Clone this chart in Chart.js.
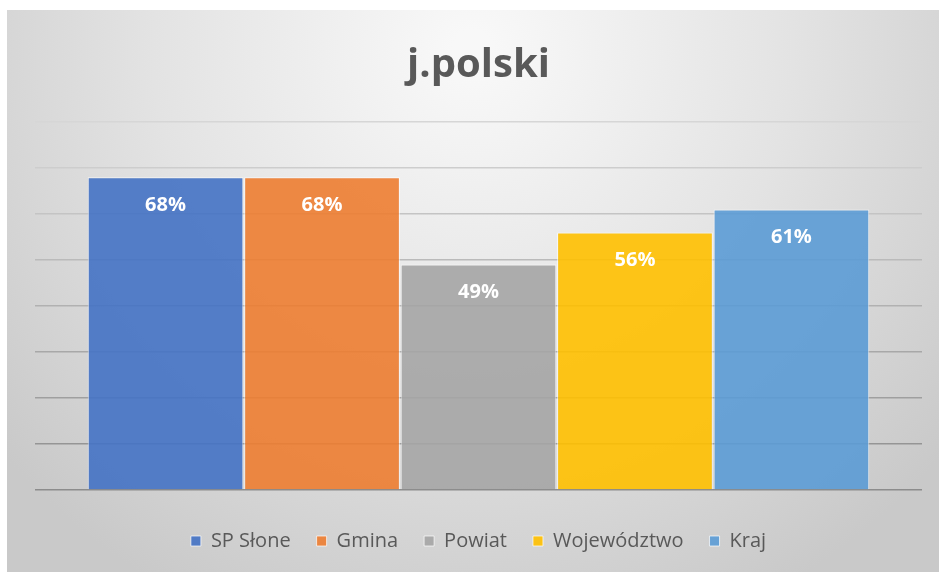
<!DOCTYPE html>
<html>
<head>
<meta charset="utf-8">
<script src="https://cdn.jsdelivr.net/npm/chart.js@4.4.1/dist/chart.umd.min.js"></script>
<style>
    body { margin: 0; background: #fff; }
    #wrap { position: absolute; left: 7px; top: 10px; width: 932px; height: 562px; }
</style>
</head>
<body>
<div id="wrap"><canvas id="chart"></canvas></div>
<script>
const categories = [''];
const seriesNames = ['SP Słone', 'Gmina', 'Powiat', 'Województwo', 'Kraj'];
const seriesValues = [68, 68, 49, 56, 61];
const seriesColors = ['rgba(68,114,196,0.9)', 'rgba(237,125,49,0.9)', 'rgba(165,165,165,0.9)', 'rgba(255,192,0,0.9)', 'rgba(91,155,213,0.9)'];
const yTicks = [0, 10, 20, 30, 40, 50, 60, 70, 80];

// gray radial background like the Excel chart style
const backgroundPlugin = {
    id: 'bg',
    beforeDraw(chart) {
        const { ctx, width, height } = chart;
        const g = ctx.createRadialGradient(width / 2, 40, 20, width / 2, 40, 620);
        g.addColorStop(0, '#f8f8f8');
        g.addColorStop(0.5, '#e3e3e3');
        g.addColorStop(1, '#c9c9c9');
        ctx.save();
        ctx.fillStyle = g;
        ctx.fillRect(0, 0, width, height);
        ctx.restore();
    }
};

// white value labels inside the top of each bar
const valueLabels = {
    id: 'valueLabels',
    afterDatasetsDraw(chart) {
        const ctx = chart.ctx;
        ctx.save();
        ctx.font = 'bold 20px "Open Sans"';
        ctx.fillStyle = '#ffffff';
        ctx.textAlign = 'center';
        ctx.textBaseline = 'middle';
        chart.data.datasets.forEach((ds, i) => {
            const bar = chart.getDatasetMeta(i).data[0];
            ctx.fillText(ds.data[0] + '%', bar.x, bar.y + 28);
        });
        ctx.restore();
    }
};

const gridColor = (ctx) => {
    const v = ctx.tick ? ctx.tick.value : 0;
    const t = v / 80;
    const c = Math.round(140 + t * 74);
    return `rgb(${c},${c},${c})`;
};

new Chart(document.getElementById('chart'), {
    type: 'bar',
    data: {
        labels: categories,
        datasets: seriesNames.map((name, i) => ({
            label: name,
            data: [seriesValues[i]],
            backgroundColor: seriesColors[i],
            borderColor: 'rgba(255,255,255,0.7)',
            borderWidth: 1,
            categoryPercentage: 0.882,
            barPercentage: 0.995
        }))
    },
    options: {
        responsive: true,
        maintainAspectRatio: false,
        animation: false,
        layout: { padding: { left: 28, right: 17, top: 0, bottom: 11 } },
        plugins: {
            title: {
                display: true,
                text: 'j.polski',
                color: '#595959',
                font: { family: 'Open Sans', size: 40, weight: 'bold' },
                padding: { top: 32, bottom: 32 }
            },
            legend: {
                position: 'bottom',
                labels: {
                    color: '#595959',
                    font: { family: 'Open Sans', size: 20 },
                    boxWidth: 10,
                    boxHeight: 10,
                    padding: 26
                }
            },
            tooltip: { enabled: false }
        },
        scales: {
            x: {
                grid: { display: false },
                border: { display: false },
                ticks: { display: false },
                afterFit: (scale) => { scale.height = 15; }
            },
            y: {
                min: 0,
                max: 80,
                afterBuildTicks: (scale) => { scale.ticks = yTicks.map(v => ({ value: v })); },
                grid: { color: gridColor, lineWidth: 1.5, drawTicks: false },
                border: { display: false },
                ticks: { display: false }
            }
        }
    },
    plugins: [backgroundPlugin, valueLabels]
});
</script>
</body>
</html>
